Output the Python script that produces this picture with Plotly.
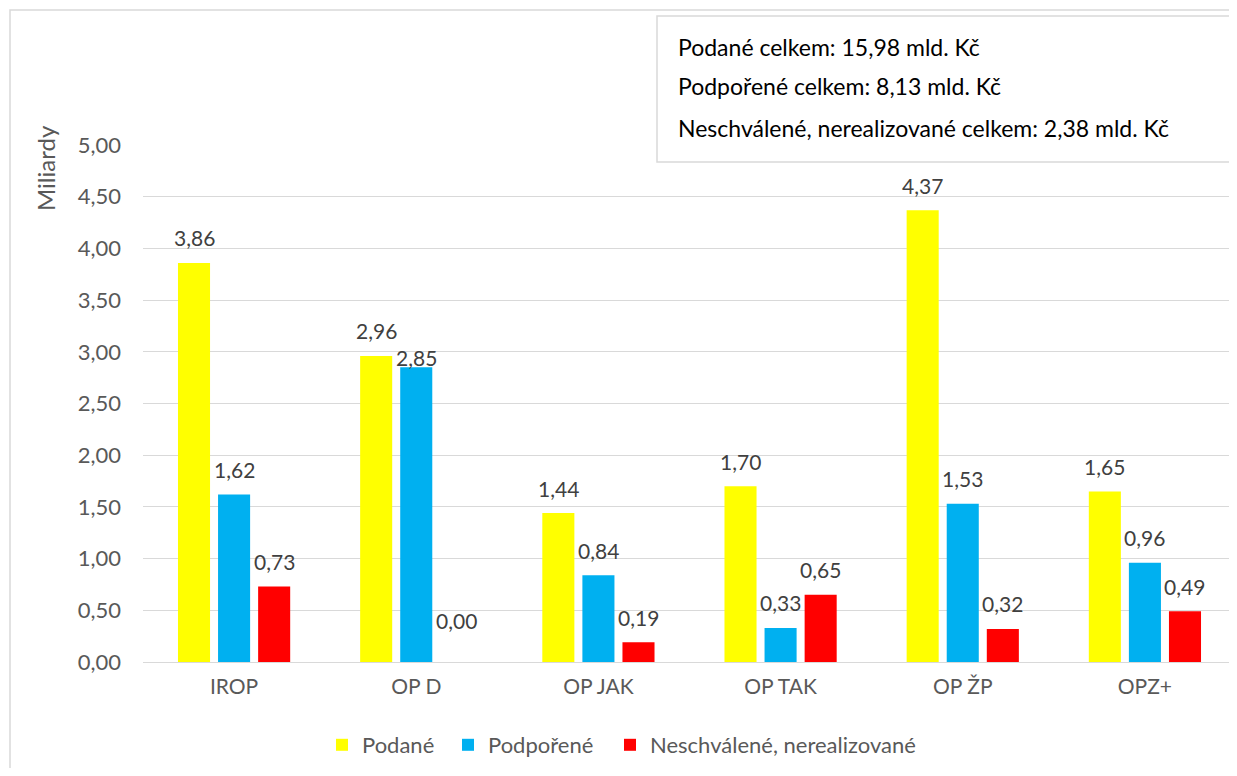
import plotly.graph_objects as go

categories = ["IROP", "OP D", "OP JAK", "OP TAK", "OP ŽP", "OPZ+"]
podane = [3.86, 2.96, 1.44, 1.70, 4.37, 1.65]
podporene = [1.62, 2.85, 0.84, 0.33, 1.53, 0.96]
neschvalene = [0.73, 0.00, 0.19, 0.65, 0.32, 0.49]
series_names = ["Podané", "Podpořené", "Neschválené, nerealizované"]
series_colors = ["#FFFF00", "#00B0F0", "#FF0000"]
box_lines = [
    "Podané celkem: 15,98 mld. Kč",
    "Podpořené celkem: 8,13 mld. Kč",
    "Neschválené, nerealizované celkem: 2,38 mld. Kč",
]

FONT = "Lato"
OFF = 8  # page body margin
W, H = 1229, 760
L, T = 143 - OFF, 145 - OFF
R = W - (1236 - OFF)
B = H - (662 - OFF)
pw, ph = W - L - R, H - T - B
SLOT = 40  # px between bar centres in a group


def px(x):
    return (x - OFF - L) / pw


def py(y):
    return (H - B - (y - OFF)) / ph


# label lift above bar tops (px); a few labels sit differently in the original
label_lift = {(1, 1): 10, (1, 2): 42}
legend_left = [322, 448, 610]

fig = go.Figure()
all_vals = [podane, podporene, neschvalene]
for i, (name, vals, col) in enumerate(zip(series_names, all_vals, series_colors)):
    lg = "legend" if i == 0 else f"legend{i + 1}"
    fig.add_trace(go.Bar(
        x=categories, y=vals, name=name, marker=dict(color=col, line=dict(width=0)),
        legend=lg,
    ))
    for j, (c, v) in enumerate(zip(categories, vals)):
        fig.add_annotation(
            x=c, y=v, xref="x", yref="y", showarrow=False,
            text=f"{v:.2f}".replace(".", ","),
            xshift=(i - 1) * SLOT, yshift=label_lift.get((j, i), 25),
            xanchor="center", yanchor="middle",
            font=dict(family=FONT, size=21, color="#404040"),
        )

legend_common = dict(orientation="h", xanchor="left", yanchor="middle",
                     y=py(745), bgcolor="rgba(0,0,0,0)", borderwidth=0,
                     font=dict(family=FONT, size=22, color="#595959"),
                     itemwidth=30)

fig.update_layout(
    width=W, height=H,
    margin=dict(l=L, r=R, t=T, b=B),
    paper_bgcolor="white", plot_bgcolor="white",
    barmode="group", bargap=0.34, bargroupgap=0.2,
    separators=", ",
    font=dict(family=FONT, color="#595959"),
    showlegend=True,
    legend=dict(x=px(legend_left[0]), **legend_common),
    legend2=dict(x=px(legend_left[1]), **legend_common),
    legend3=dict(x=px(legend_left[2]), **legend_common),
    xaxis=dict(showgrid=False, showline=False, ticks="",
               tickfont=dict(family=FONT, size=21, color="#595959"),
               ticklabelstandoff=10),
    yaxis=dict(range=[0, 5], dtick=0.5, tickformat=".2f",
               showgrid=True, gridcolor="#D9D9D9", gridwidth=1,
               zeroline=True, zerolinecolor="#D9D9D9", zerolinewidth=1,
               showline=False, ticks="",
               tickfont=dict(family=FONT, size=22, color="#595959"),
               ticklabelstandoff=21),
)

# outer chart border
fig.add_shape(type="rect", xref="paper", yref="paper",
              x0=px(10), x1=px(1245), y0=py(800), y1=py(10),
              line=dict(color="#D9D9D9", width=1.5), fillcolor="rgba(0,0,0,0)", layer="below")

# axis unit label
fig.add_annotation(xref="paper", yref="paper", x=px(45), y=py(168), text="Miliardy",
                   textangle=-90, showarrow=False, xanchor="center", yanchor="middle",
                   font=dict(family=FONT, size=24, color="#595959"))

# summary box
fig.add_shape(type="rect", xref="paper", yref="paper",
              x0=px(657), x1=px(1233), y0=py(162), y1=py(16),
              line=dict(color="#D9D9D9", width=1.5), fillcolor="white")
for line, yy in zip(box_lines, [47, 86, 128]):
    fig.add_annotation(xref="paper", yref="paper", x=px(676), y=py(yy),
                       xanchor="left", yanchor="middle", text=line, showarrow=False,
                       font=dict(family=FONT, size=23, color="#000000"))

fig.write_html("out.html")
